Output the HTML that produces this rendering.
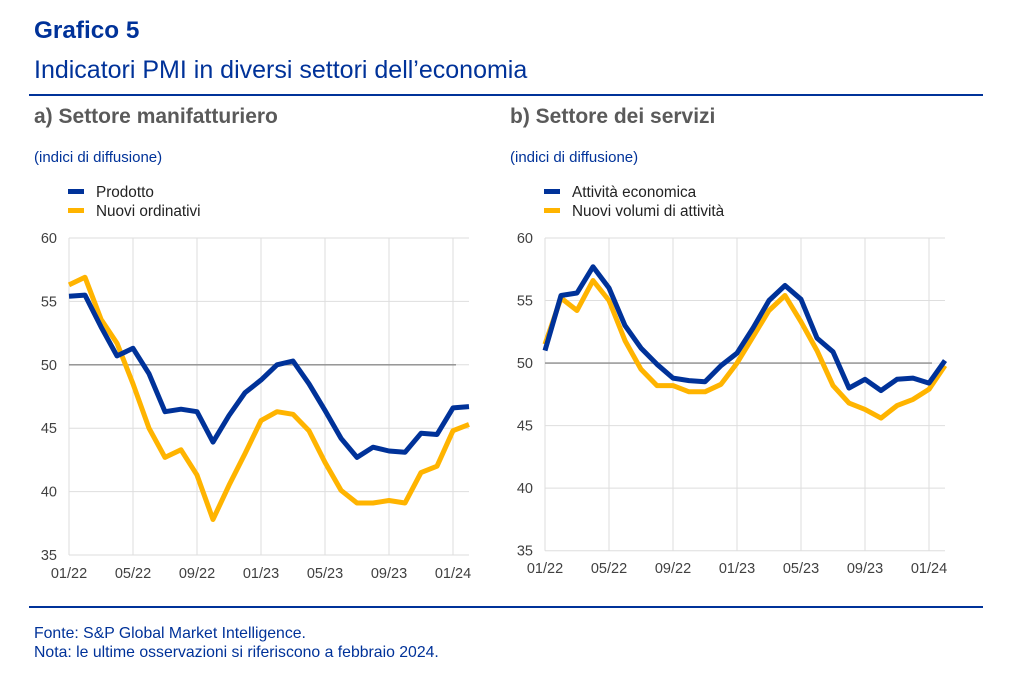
<!DOCTYPE html>
<html><head><meta charset="utf-8"><style>
body{margin:0;background:#fff;width:1024px;height:680px;overflow:hidden}
svg text{font-family:"Liberation Sans",Arial,sans-serif}
</style></head><body>
<svg id="s" width="1024" height="680" xmlns="http://www.w3.org/2000/svg">
<text x="34" y="38" font-size="24.3" font-weight="bold" fill="#003299">Grafico 5</text>
<text x="34" y="78" font-size="25" fill="#003299">Indicatori PMI in diversi settori dell’economia</text>
<rect x="29" y="94" width="954" height="2" fill="#003299"/>
<text x="34" y="123" font-size="21" font-weight="bold" fill="#5a5a5a">a) Settore manifatturiero</text>
<text x="510" y="123" font-size="21" font-weight="bold" fill="#5a5a5a">b) Settore dei servizi</text>
<text x="34" y="162" font-size="15" fill="#003299">(indici di diffusione)</text>
<text x="510" y="162" font-size="15" fill="#003299">(indici di diffusione)</text>
<rect x="68" y="189" width="16" height="5" fill="#003299"/>
<text x="96" y="197" font-size="15.3" fill="#222">Prodotto</text>
<rect x="68" y="208" width="16" height="5" fill="#ffb400"/>
<text x="96" y="216" font-size="15.3" fill="#222">Nuovi ordinativi</text>
<rect x="544" y="189" width="16" height="5" fill="#003299"/>
<text x="572" y="197" font-size="15.3" fill="#222">Attività economica</text>
<rect x="544" y="208" width="16" height="5" fill="#ffb400"/>
<text x="572" y="216" font-size="15.3" fill="#222">Nuovi volumi di attività</text>
<rect x="29" y="606" width="954" height="2" fill="#003299"/>
<text x="34" y="638" font-size="15.8" fill="#003299">Fonte: S&amp;P Global Market Intelligence.</text>
<text x="34" y="657" font-size="15.8" fill="#003299">Nota: le ultime osservazioni si riferiscono a febbraio 2024.</text>
<g id="g"></g>
</svg>
<script>
var g=document.getElementById('g'),h='';
function chart(x0,y0,y1,lx,xb,A,B){
 var k=(y1-y0)/25;
 function Y(v){return y0+(60-v)*k}
 for(var v=35;v<=60;v+=5){h+='<line x1="'+x0+'" x2="'+(x0+400)+'" y1="'+Y(v)+'" y2="'+Y(v)+'" stroke="#dedede" stroke-width="1"/>';
  h+='<text x="'+lx+'" y="'+(Y(v)+5)+'" font-size="14.5" fill="#404040" text-anchor="end">'+v+'</text>';}
 var lab=['01/22','05/22','09/22','01/23','05/23','09/23','01/24'];
 for(var i=0;i<7;i++){var x=x0+i*64;h+='<line x1="'+x+'" x2="'+x+'" y1="'+y0+'" y2="'+y1+'" stroke="#dedede" stroke-width="1"/>';
  h+='<text x="'+x+'" y="'+xb+'" font-size="14.5" fill="#404040" text-anchor="middle">'+lab[i]+'</text>';}
 h+='<line x1="'+x0+'" x2="'+(x0+387)+'" y1="'+Y(50)+'" y2="'+Y(50)+'" stroke="#8c8c8c" stroke-width="1.3"/>';
 [[B,'#ffb400'],[A,'#003299']].forEach(function(s){var p=s[0].map(function(v,i){return (x0+i*16)+','+Y(v).toFixed(1)}).join(' ');
  h+='<polyline points="'+p+'" fill="none" stroke="'+s[1]+'" stroke-width="5" stroke-linejoin="round"/>';});
}
chart(69,238,555,57,578,
[55.4,55.5,53,50.7,51.3,49.3,46.3,46.5,46.3,43.9,46.0,47.8,48.8,50.0,50.3,48.5,46.4,44.2,42.7,43.5,43.2,43.1,44.6,44.5,46.6,46.7],
[56.3,56.9,53.6,51.7,48.5,45.0,42.7,43.3,41.3,37.8,40.5,43.0,45.6,46.3,46.1,44.8,42.3,40.1,39.1,39.1,39.3,39.1,41.5,42.0,44.8,45.3]);
chart(545,238,550.7,533,573,
[51.0,55.4,55.6,57.7,56.0,53.0,51.2,49.9,48.8,48.6,48.5,49.8,50.8,52.8,55.0,56.2,55.1,52.0,50.9,48.0,48.7,47.8,48.7,48.8,48.4,50.2],
[51.5,55.2,54.2,56.6,55.0,51.8,49.5,48.2,48.2,47.7,47.7,48.3,50.0,52.1,54.2,55.4,53.3,51.0,48.2,46.8,46.3,45.6,46.6,47.1,47.9,49.8]);
g.innerHTML=h;
</script>
</body></html>
